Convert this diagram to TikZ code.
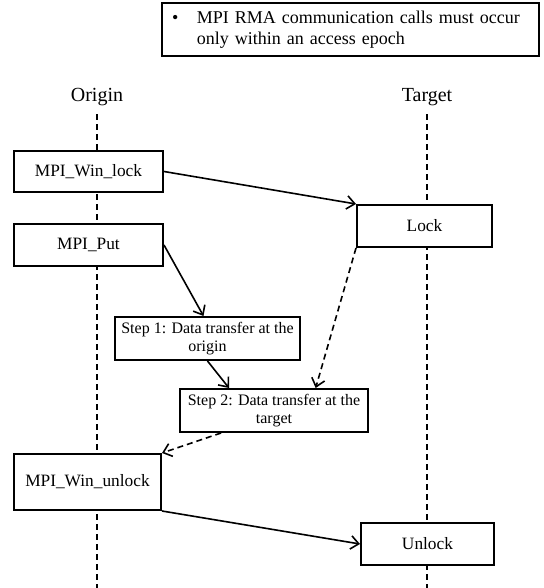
\documentclass[tikz,border=0pt]{standalone}
\usepackage{fontspec}
\setmainfont{Liberation Serif}
\usetikzlibrary{arrows.meta,positioning}

\begin{document}
\begin{tikzpicture}[x=0.75pt,y=-0.75pt,
  lbl/.style={font=\fontsize{15}{18}\selectfont},
  box/.style={draw, line width=1.5pt, fill=white, inner sep=0pt,
              font=\fontsize{13}{15}\selectfont, align=center},
  stepbox/.style={box, font=\fontsize{12}{14}\selectfont},
  boxsize/.style 2 args={minimum width=#1*0.75pt, minimum height=#2*0.75pt},
  life/.style={line width=1.4pt, dash pattern=on 4.5pt off 3pt},
  msg/.style={line width=1.2pt, -{Straight Barb[length=6pt,width=10pt]}},
  ack/.style={msg, dash pattern=on 4.5pt off 3pt}
]
\useasboundingbox (0,0) rectangle (543,588);
% Note
\node[box, boxsize={377}{53}, text width=267.75pt, inner xsep=7.5pt,
      align=left, font=\fontsize{13.5}{16}\selectfont] (note) at (350.5,29.5)
  {\begin{tabular}{@{}l@{\hspace{14pt}}l@{}}
   \textbullet & MPI RMA communication calls must occur\\
               & only within an access epoch
   \end{tabular}};
% Lifelines
\node[lbl] (org) at (97,97) {Origin};
\node[lbl] (tgt) at (427,97) {Target};
\coordinate (orgend) at (97,588);
\coordinate (tgtend) at (427,588);
\draw[life] ([yshift=-3pt]org.south) -- (orgend);
\draw[life] ([yshift=-3pt]tgt.south) -- (tgtend);
% Origin calls
\node[box, boxsize={149}{41}] (wlock) at (88.5,171.5) {MPI\_Win\_lock};
\node[box, boxsize={149}{42}] (put) at (88.5,245) {MPI\_Put};
\node[box, boxsize={147}{56}] (wunlock) at (87.5,482) {MPI\_Win\_unlock};
% Target side
\node[box, boxsize={135}{42}] (lock) at (424.5,226) {Lock};
\node[box, boxsize={133}{42}] (unlock) at (427.5,544) {Unlock};
% Transfer steps
\node[stepbox, boxsize={185}{43}] (step1) at (207.5,338.5)
  {Step 1: Data transfer at the\\origin};
\node[stepbox, boxsize={188}{43}] (step2) at (274,410.5)
  {Step 2: Data transfer at the\\target};
% Messages
\draw[msg] (wlock.east) -- (lock.north west);
\draw[msg] (put.east) -- ([xshift=-3pt]step1.north);
\draw[msg] (step1.south) -- ([xshift=37.5pt]step2.north west);
\draw[ack] (lock.south west) -- ([xshift=-40pt]step2.north east);
\draw[ack] ([xshift=31.5pt]step2.south west) -- (wunlock.north east);
\draw[msg] (wunlock.south east) -- (unlock.west);
\end{tikzpicture}
\end{document}
